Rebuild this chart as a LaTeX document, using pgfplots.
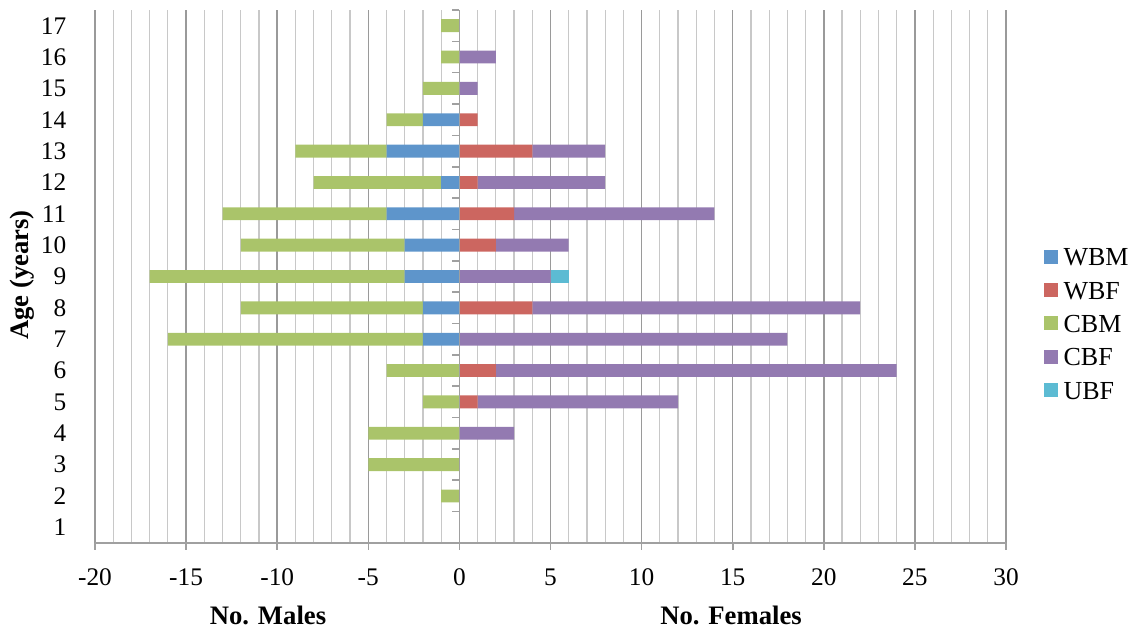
\documentclass[border=0pt]{standalone}
\usepackage{fontspec}
\setmainfont{Liberation Serif}
\usepackage{pgfplots}
\usepackage{pgfplotstable}
\pgfplotsset{compat=1.18}

\definecolor{wbm}{HTML}{5E95CB}
\definecolor{wbf}{HTML}{CC6660}
\definecolor{cbm}{HTML}{AAC46A}
\definecolor{cbf}{HTML}{937AB1}
\definecolor{ubf}{HTML}{5CBBD3}
\definecolor{majgray}{HTML}{9A9A9A}
\definecolor{mingray}{HTML}{C8C8C8}
\definecolor{axgray}{HTML}{A0A0A0}

\pgfplotstableread{
age WBM CBM
17 0 -1
16 0 -1
15 0 -2
14 -2 -2
13 -4 -5
12 -1 -7
11 -4 -9
10 -3 -9
9 -3 -14
8 -2 -10
7 -2 -14
6 0 -4
5 0 -2
4 0 -5
3 0 -5
2 0 -1
1 0 0
}\males

\pgfplotstableread{
age WBF CBF UBF
17 0 0 0
16 0 2 0
15 0 1 0
14 1 0 0
13 4 4 0
12 1 7 0
11 3 11 0
10 2 4 0
9 0 5 1
8 4 18 0
7 0 18 0
6 2 22 0
5 1 11 0
4 0 3 0
3 0 0 0
2 0 0 0
1 0 0 0
}\females

\begin{document}
\begin{tikzpicture}
\useasboundingbox (-71.25pt,-65.25pt) rectangle (779.25pt,407.25pt);
\pgfplotsset{
  common/.style={scale only axis, width=683.25pt, height=399.75pt,
    xmin=-20, xmax=30, ymin=0.5, ymax=17.5,
    xbar stacked, bar width=0.41},
}
\begin{axis}[common,
  axis x line*=bottom, axis y line*=left,
  y axis line style={draw=none},
  x axis line style={draw=axgray, line width=1.2pt},
  xtick={-20,-15,...,30},
  xticklabels={-20,-15,-10,-5,0,5,10,15,20,25,30},
  minor x tick num=4,
  ytick={1,...,17},
  yticklabels={1,2,3,4,5,6,7,8,9,10,11,12,13,14,15,16,17},
  xmajorgrids, xminorgrids,
  major grid style={draw=majgray, line width=1.1pt},
  minor grid style={draw=mingray, line width=0.9pt},
  tick label style={font=\fontsize{19}{23}\selectfont},
  xtick style={draw=axgray, line width=1.2pt},
  major tick length=5pt, minor tick length=0pt, tick align=outside,
  ytick style={draw=none},
  yticklabel style={xshift=-13pt},
  xticklabel style={yshift=-11pt},
]
\addplot[fill=wbm, draw=none] table[x=WBM, y=age] {\males};
\addplot[fill=cbm, draw=none] table[x=CBM, y=age] {\males};
\end{axis}

\begin{axis}[common,
  axis on top,
  axis x line=none, axis y line=middle,
  y axis line style={-, draw=axgray, line width=1.2pt},
  ytick={0.5,1.5,...,17.5}, yticklabels={},
  ytick style={draw=axgray, line width=1.2pt, xshift=-2.7pt},
  major tick length=5.4pt,
  legend image code/.code={\fill[#1] (0pt,-4.5pt) rectangle (10.5pt,6pt);},
  legend cell align=left,
  legend style={draw=none, fill=none, at={(1,0.41)}, anchor=west, xshift=25pt,
    font=\fontsize{19.5}{23}\selectfont,
    nodes={text height=14pt, text depth=2pt, inner sep=4.5pt}},
]
\addlegendimage{fill=wbm, draw=none}
\addlegendentry{WBM}
\addplot[fill=wbf, draw=none] table[x=WBF, y=age] {\females};
\addlegendentry{WBF}
\addlegendimage{fill=cbm, draw=none}
\addlegendentry{CBM}
\addplot[fill=cbf, draw=none] table[x=CBF, y=age] {\females};
\addlegendentry{CBF}
\addplot[fill=ubf, draw=none] table[x=UBF, y=age] {\females};
\addlegendentry{UBF}
\end{axis}

\node[font=\bfseries\fontsize{20}{24}\selectfont] at (129.75pt,-54pt) {No. Males};
\node[font=\bfseries\fontsize{20}{24}\selectfont] at (477pt,-54pt) {No. Females};
\node[font=\bfseries\fontsize{20}{24}\selectfont, rotate=90] at (-54.75pt,201pt) {Age (years)};
\end{tikzpicture}
\end{document}
